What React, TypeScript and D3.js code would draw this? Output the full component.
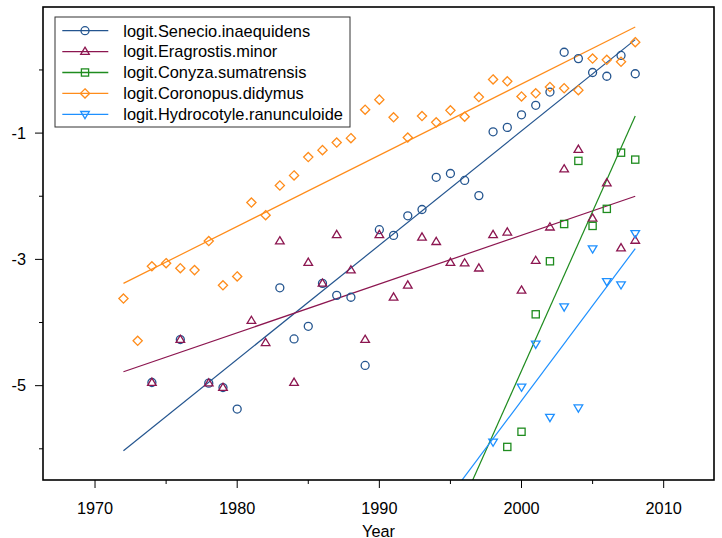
import React from "react";
import * as d3 from "d3";

// ---- data ----
const seneYears = [1974, 1976, 1978, 1979, 1980, 1983, 1984, 1985, 1986, 1987, 1988, 1989, 1990, 1991, 1992, 1993, 1994, 1995, 1996, 1997, 1998, 1999, 2000, 2001, 2002, 2003, 2004, 2005, 2006, 2007, 2008];
const seneValues = [-4.95, -4.27, -4.96, -5.03, -5.37, -3.45, -4.26, -4.06, -3.38, -3.57, -3.6, -4.68, -2.53, -2.62, -2.31, -2.21, -1.7, -1.64, -1.75, -1.99, -0.98, -0.91, -0.71, -0.56, -0.35, 0.28, 0.18, -0.04, -0.1, 0.23, -0.06];

const eragYears = [1974, 1976, 1978, 1979, 1981, 1982, 1983, 1984, 1985, 1986, 1987, 1988, 1989, 1990, 1991, 1992, 1993, 1994, 1995, 1996, 1997, 1998, 1999, 2000, 2001, 2002, 2003, 2004, 2005, 2006, 2007, 2008];
const eragValues = [-4.95, -4.27, -4.96, -5.03, -3.97, -4.32, -2.71, -4.95, -3.05, -3.38, -2.61, -3.17, -4.27, -2.61, -3.6, -3.41, -2.65, -2.72, -3.05, -3.06, -3.14, -2.61, -2.57, -3.49, -3.02, -2.49, -1.57, -1.26, -2.35, -1.79, -2.82, -2.7];

const conyYears = [1999, 2000, 2001, 2002, 2003, 2004, 2005, 2006, 2007, 2008];
const conyValues = [-5.97, -5.73, -3.87, -3.03, -2.44, -1.44, -2.47, -2.2, -1.31, -1.42];

const coroYears = d3.range(1972, 2009);
const coroValues = [-3.62, -4.29, -3.11, -3.06, -3.14, -3.17, -2.71, -3.41, -3.27, -2.1, -2.3, -1.83, -1.67, -1.38, -1.27, -1.15, -1.08, -0.63, -0.47, -0.75, -1.07, -0.73, -0.83, -0.64, -0.74, -0.43, -0.15, -0.18, -0.42, -0.37, -0.27, -0.29, -0.32, 0.18, 0.16, 0.13, 0.44];

const hydrYears = [1998, 2000, 2001, 2002, 2003, 2004, 2005, 2006, 2007, 2008];
const hydrValues = [-5.89, -5.02, -4.34, -5.5, -3.75, -5.35, -2.83, -3.35, -3.4, -2.59];

// fitted lines: [year, value] at both ends
const seneFit = [[1972, -6.03], [2008, 0.48]];
const eragFit = [[1972, -4.78], [2008, -2.0]];
const conyFit = [[1996, -6.78], [2008, -0.73]];
const coroFit = [[1972, -3.38], [2008, 0.68]];
const hydrFit = [[1995, -6.74], [2008, -2.83]];

const seriesNames = [
  "logit.Senecio.inaequidens",
  "logit.Eragrostis.minor",
  "logit.Conyza.sumatrensis",
  "logit.Coronopus.didymus",
  "logit.Hydrocotyle.ranunculoide",
];

const xMajorTicks = [1970, 1980, 1990, 2000, 2010];
const xMinorTicks = [1975, 1985, 1995, 2005];
const yMajorTicks = [-1, -3, -5];
const yMinorTicks = [0, -2, -4, -6];

// ---- styling ----
const colors = ["#24558f", "#8c1650", "#1f8c1f", "#ff8c1a", "#1e90ff"];
const shapes = ["circle", "triangle", "square", "diamond", "down"];

const series = [
  { years: seneYears, values: seneValues, fit: seneFit },
  { years: eragYears, values: eragValues, fit: eragFit },
  { years: conyYears, values: conyValues, fit: conyFit },
  { years: coroYears, values: coroValues, fit: coroFit },
  { years: hydrYears, values: hydrValues, fit: hydrFit },
];

const W = 722;
const H = 538;
const plot = { left: 43, top: 7, right: 714, bottom: 480 };
const FONT = "'Liberation Sans', Arial, sans-serif";

function Marker({ shape, x, y, color }: { shape: string; x: number; y: number; color: string }) {
  const common = { fill: "none", stroke: color, strokeWidth: 1.3 };
  if (shape === "circle") return <circle cx={x} cy={y} r={4} {...common} />;
  if (shape === "square") return <rect x={x - 3.6} y={y - 3.6} width={7.2} height={7.2} {...common} />;
  if (shape === "diamond")
    return <path d={`M${x},${y - 4.6}L${x + 4.6},${y}L${x},${y + 4.6}L${x - 4.6},${y}Z`} {...common} />;
  if (shape === "triangle")
    return <path d={`M${x},${y - 4.4}L${x + 4.3},${y + 2.8}L${x - 4.3},${y + 2.8}Z`} {...common} />;
  return <path d={`M${x},${y + 4.4}L${x + 4.3},${y - 2.8}L${x - 4.3},${y - 2.8}Z`} {...common} />;
}

export default function App() {
  const x = d3.scaleLinear().domain([1966.34, 2013.54]).range([plot.left, plot.right]);
  const y = d3.scaleLinear().domain([-6.494, 0.997]).range([plot.bottom, plot.top]);
  const line = d3
    .line<number[]>()
    .x((d) => x(d[0]))
    .y((d) => y(d[1]));

  const legend = { x: 55, y: 17, w: 295, h: 110, row: 20.9 };

  return (
    <svg
      width={W}
      height={H}
      style={{ position: "absolute", left: 0, top: 0, background: "#fff" }}
      fontFamily={FONT}
    >
      <defs>
        <clipPath id="plotclip">
          <rect x={plot.left} y={plot.top} width={plot.right - plot.left} height={plot.bottom - plot.top} />
        </clipPath>
      </defs>

      {/* fit lines */}
      <g clipPath="url(#plotclip)">
        {series.map((s, i) => (
          <path key={"fit" + i} d={line(s.fit) || ""} fill="none" stroke={colors[i]} strokeWidth={1.2} />
        ))}
      </g>

      {/* points */}
      {series.map((s, i) =>
        s.years.map((yr, j) => (
          <Marker key={i + "-" + j} shape={shapes[i]} x={x(yr)} y={y(s.values[j])} color={colors[i]} />
        ))
      )}

      {/* frame */}
      <rect
        x={plot.left}
        y={plot.top}
        width={plot.right - plot.left}
        height={plot.bottom - plot.top}
        fill="none"
        stroke="#000"
        strokeWidth={1.6}
      />

      {/* x axis */}
      {xMajorTicks.map((t) => (
        <g key={"xt" + t}>
          <line x1={x(t)} x2={x(t)} y1={plot.bottom} y2={plot.bottom + 8} stroke="#000" strokeWidth={1} />
          <text x={x(t)} y={513.5} textAnchor="middle" fontSize={16.3} fill="#000">
            {t}
          </text>
        </g>
      ))}
      {xMinorTicks.map((t) => (
        <line key={"xm" + t} x1={x(t)} x2={x(t)} y1={plot.bottom} y2={plot.bottom + 4} stroke="#000" strokeWidth={1} />
      ))}
      <text x={(plot.left + plot.right) / 2} y={536.5} textAnchor="middle" fontSize={16.3} fill="#000">
        Year
      </text>

      {/* y axis */}
      {yMajorTicks.map((t) => (
        <g key={"yt" + t}>
          <line x1={plot.left - 8} x2={plot.left} y1={y(t)} y2={y(t)} stroke="#000" strokeWidth={1} />
          <text x={26} y={y(t) + 5.8} textAnchor="end" fontSize={16.3} fill="#000">
            {t}
          </text>
        </g>
      ))}
      {yMinorTicks.map((t) => (
        <line key={"ym" + t} x1={plot.left - 4} x2={plot.left} y1={y(t)} y2={y(t)} stroke="#000" strokeWidth={1} />
      ))}

      {/* legend */}
      <rect x={legend.x} y={legend.y} width={legend.w} height={legend.h} fill="#fff" stroke="#333" strokeWidth={1} />
      {seriesNames.map((name, i) => {
        const cy = legend.y + 13.7 + i * legend.row;
        return (
          <g key={"lg" + i}>
            <line x1={62.3} x2={108.3} y1={cy} y2={cy} stroke={colors[i]} strokeWidth={1.3} />
            <Marker shape={shapes[i]} x={85} y={cy} color={colors[i]} />
            <text x={123.3} y={cy + 5.8} fontSize={16.4} fill="#000">
              {name}
            </text>
          </g>
        );
      })}
    </svg>
  );
}
